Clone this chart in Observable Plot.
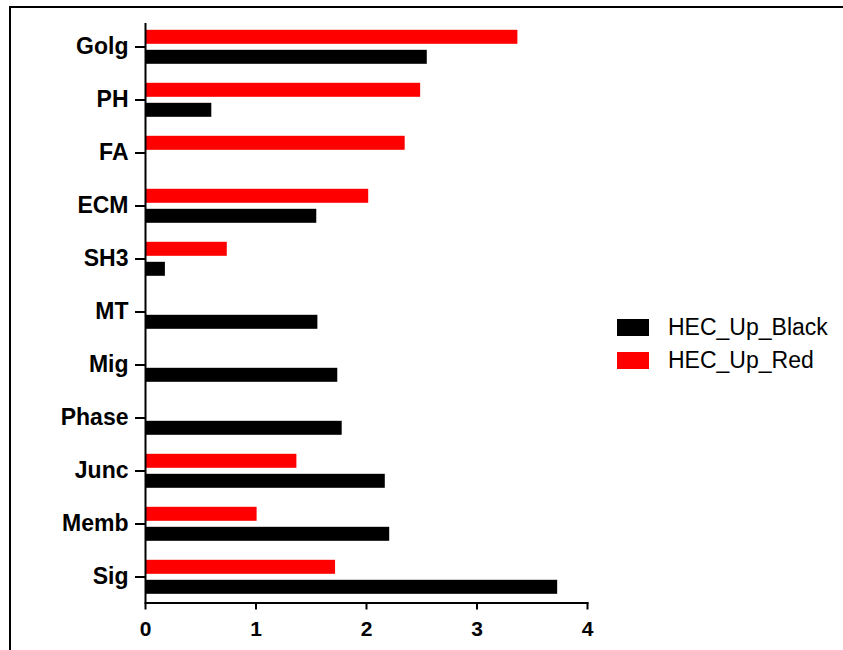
<!DOCTYPE html>
<html>
<head>
<meta charset="utf-8">
<script src="https://cdn.jsdelivr.net/npm/d3@7"></script>
<script src="https://cdn.jsdelivr.net/npm/@observablehq/plot@0.6"></script>
<style>
  html, body { margin: 0; padding: 0; background: #fff; overflow: hidden; width: 843px; height: 650px; }
  #wrap { position: relative; width: 843px; height: 650px; }
  #frame { position: absolute; left: 9px; top: 6px; width: 900px; height: 900px; border-left: 2px solid #000; border-top: 2px solid #000; box-sizing: border-box; }
  #chart { position: absolute; left: 0; top: 0; }
  .legend { position: absolute; left: 617px; font-family: "Liberation Sans", Arial, sans-serif; font-size: 23px; color: #000; }
  .legend .row { display: flex; align-items: center; height: 33px; }
  .legend .sw { width: 32px; height: 17px; margin-right: 19px; }
</style>
</head>
<body>
<div id="wrap">
  <div id="frame"></div>
  <div id="chart"></div>
  <div class="legend" id="legend" style="top:311px"></div>
</div>
<script>
const categories = ["Golg", "PH", "FA", "ECM", "SH3", "MT", "Mig", "Phase", "Junc", "Memb", "Sig"];
const blackValues = [2.55, 0.60, null, 1.55, 0.18, 1.56, 1.74, 1.78, 2.17, 2.21, 3.73];
const redValues   = [3.37, 2.49, 2.35, 2.02, 0.74, null, null, null, 1.37, 1.01, 1.72];
const seriesNames = ["HEC_Up_Black", "HEC_Up_Red"];
const seriesColors = ["#000000", "#ff0000"];
const xTicks = [0, 1, 2, 3, 4];

const blackData = categories.map((c, i) => ({cat: c, value: blackValues[i]})).filter(d => d.value != null);
const redData = categories.map((c, i) => ({cat: c, value: redValues[i]})).filter(d => d.value != null);

const font = '"Liberation Sans", Arial, sans-serif';

const chart = Plot.plot({
  width: 843,
  height: 650,
  marginLeft: 145,
  marginRight: 256,
  marginTop: 19.5,
  marginBottom: 47.5,
  style: {fontFamily: font, background: "transparent", overflow: "visible"},
  x: {domain: [0, 4], axis: null},
  y: {type: "band", domain: categories, padding: 0, axis: null},
  marks: [
    Plot.barX(redData, {x: "value", y: "cat", fill: seriesColors[1], insetTop: 9.8, insetBottom: 29.2}),
    Plot.barX(blackData, {x: "value", y: "cat", fill: seriesColors[0], insetTop: 29.8, insetBottom: 9.2}),
    Plot.ruleX([0], {stroke: "#000", strokeWidth: 2, insetTop: 3.5}),
    Plot.frame({anchor: "bottom", stroke: "#000", strokeWidth: 2}),
    Plot.axisX(xTicks, {anchor: "bottom", tickSize: 7, tickPadding: 11, strokeWidth: 2, fontSize: 21, fontWeight: "bold", fill: "#000", label: null}),
    Plot.axisY({anchor: "left", tickSize: 10, tickPadding: 7, strokeWidth: 2, fontSize: 23, fontWeight: "bold", fill: "#000", label: null})
  ]
});
document.getElementById("chart").appendChild(chart);

const legend = document.getElementById("legend");
seriesNames.forEach((name, i) => {
  const row = document.createElement("div");
  row.className = "row";
  const sw = document.createElement("div");
  sw.className = "sw";
  sw.style.background = seriesColors[i];
  const t = document.createElement("span");
  t.textContent = name;
  row.appendChild(sw);
  row.appendChild(t);
  legend.appendChild(row);
});
</script>
</body>
</html>
